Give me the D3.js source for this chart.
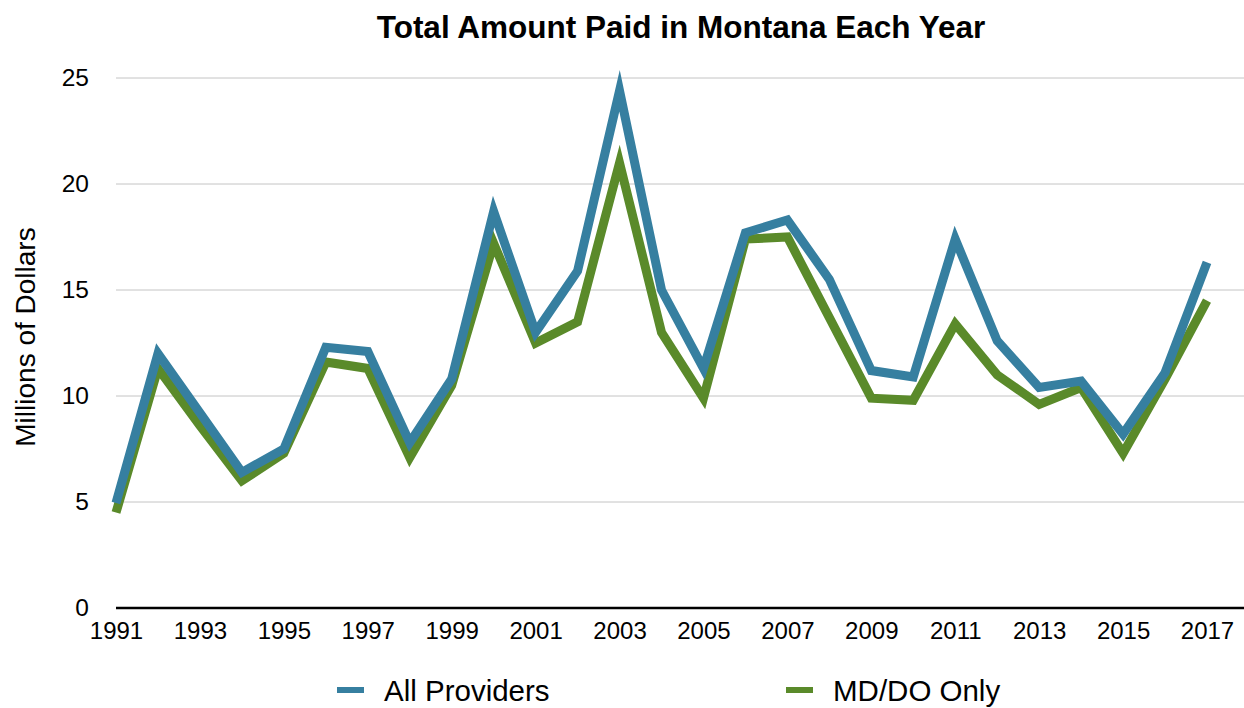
<!DOCTYPE html>
<html>
<head>
<meta charset="utf-8">
<script src="https://cdn.jsdelivr.net/npm/d3@7"></script>
<style>
  body { margin: 0; background: #fff; }
  text { font-family: "Liberation Sans", Arial, sans-serif; }
</style>
</head>
<body>
<div class="canvas"></div>
<script>
// data (millions of dollars)
const years = d3.range(1991, 2018);
const allProviders = [4.95, 12.0, 9.2, 6.4, 7.5, 12.3, 12.1, 7.8, 10.8, 18.7, 13.0, 15.9, 24.4, 15.0, 11.3, 17.7, 18.3, 15.5, 11.2, 10.9, 17.4, 12.6, 10.4, 10.7, 8.2, 11.1, 16.3];
const mdDoOnly = [4.5, 11.3, 8.6, 6.0, 7.3, 11.6, 11.3, 7.1, 10.5, 17.2, 12.5, 13.5, 21.0, 13.0, 9.9, 17.4, 17.5, 13.7, 9.9, 9.8, 13.4, 11.0, 9.6, 10.4, 7.3, 10.8, 14.5];
const yTicks = [0, 5, 10, 15, 20, 25];
const xTicks = d3.range(1991, 2018, 2);
const seriesNames = ['All Providers', 'MD/DO Only'];
const colors = ['#367fa0', '#5a8a2a'];

const width = 1244, height = 708;

const svg = d3.select('.canvas')
    .append('svg')
    .attr('width', width)
    .attr('height', height);

const x = d3.scaleLinear()
    .domain([1991, 2017])
    .range([116, 1207]);

const y = d3.scaleLinear()
    .domain([0, 25])
    .range([608, 78]);

// title
svg.append('text')
    .attr('x', 681)
    .attr('y', 38)
    .attr('text-anchor', 'middle')
    .attr('font-size', 31.5)
    .attr('font-weight', 'bold')
    .text('Total Amount Paid in Montana Each Year');

// gridlines
svg.append('g')
    .selectAll('line')
    .data(yTicks.filter(d => d > 0))
    .enter()
    .append('line')
    .attr('x1', 116)
    .attr('x2', width)
    .attr('y1', d => y(d))
    .attr('y2', d => y(d))
    .attr('stroke', '#c4c4c4')
    .attr('stroke-width', 1);

// y axis labels
const yAxis = d3.axisLeft(y).tickValues(yTicks).tickSize(0).tickPadding(0);
svg.append('g')
    .attr('transform', 'translate(89,0)')
    .call(yAxis)
    .call(g => g.select('.domain').remove())
    .selectAll('text')
    .attr('font-size', 24.5)
    .attr('fill', '#000')
    .attr('font-family', '"Liberation Sans", Arial, sans-serif');

// x axis
const xAxis = d3.axisBottom(x).tickValues(xTicks).tickFormat(d3.format('d')).tickSize(0).tickPadding(14);
const xg = svg.append('g')
    .attr('transform', `translate(0,${y(0)})`)
    .call(xAxis);
xg.select('.domain').remove();
xg.selectAll('text')
    .attr('font-size', 24)
    .attr('fill', '#000')
    .attr('font-family', '"Liberation Sans", Arial, sans-serif');
svg.append('line')
    .attr('x1', 116)
    .attr('x2', width)
    .attr('y1', y(0))
    .attr('y2', y(0))
    .attr('stroke', '#000')
    .attr('stroke-width', 2.5);

// y axis title
svg.append('text')
    .attr('transform', 'translate(35,337) rotate(-90)')
    .attr('text-anchor', 'middle')
    .attr('font-size', 28)
    .text('Millions of Dollars');

// lines (green under blue)
const line = d3.line()
    .x((d, i) => x(years[i]))
    .y(d => y(d));

const series = [mdDoOnly, allProviders];
const seriesColors = [colors[1], colors[0]];
svg.append('g')
    .selectAll('path')
    .data(series)
    .enter()
    .append('path')
    .attr('d', line)
    .attr('fill', 'none')
    .attr('stroke', (d, i) => seriesColors[i])
    .attr('stroke-width', 9)
    .attr('stroke-linejoin', 'miter')
    .attr('stroke-miterlimit', 10);

// legend
const legendX = [337, 786];
const legend = svg.append('g')
    .selectAll('g')
    .data(seriesNames)
    .enter()
    .append('g')
    .attr('transform', (d, i) => `translate(${legendX[i]},690)`);
legend.append('rect')
    .attr('x', 0)
    .attr('y', -3)
    .attr('width', 27)
    .attr('height', 6)
    .attr('fill', (d, i) => colors[i]);
legend.append('text')
    .attr('x', 47)
    .attr('y', 11)
    .attr('font-size', 29.5)
    .text(d => d);
</script>
</body>
</html>
